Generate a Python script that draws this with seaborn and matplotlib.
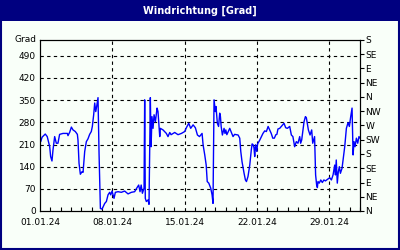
import numpy as np
import pandas as pd
import matplotlib
matplotlib.use("Agg")
import matplotlib.pyplot as plt
import matplotlib.dates as mdates
from matplotlib.patches import Rectangle
import seaborn as sns

# day offsets from 01.01.24 and wind direction in degrees
days = [0.07, 0.2, 0.51, 0.7, 0.94, 1.03, 1.16, 1.26, 1.42, 1.58, 1.74, 1.9, 2.23, 2.65, 2.71, 2.88,
        3.04, 3.2, 3.42, 3.62, 3.68, 3.78, 3.91, 4.07, 4.17, 4.33, 4.49, 4.65, 4.81, 4.97, 5.07,
        5.2, 5.3, 5.4, 5.49, 5.62, 5.72, 5.85, 6.01, 6.27, 6.43, 6.59, 6.75, 6.85, 6.98, 7.17,
        7.3, 7.56, 7.88, 8.2, 8.53, 8.85, 9.17, 9.33, 9.56, 9.69, 9.8, 9.92, 10.08, 10.14, 10.2,
        10.3, 10.47, 10.56, 10.69, 10.76, 10.85, 10.95, 11.05, 11.18, 11.34, 11.43, 11.53, 11.6,
        11.66, 11.92, 12.24, 12.4, 12.57, 12.7, 13.05, 13.37, 13.7, 14.02, 14.18, 14.41, 14.6,
        14.83, 15.05, 15.25, 15.45, 15.6, 15.7, 15.8, 15.96, 16.1, 16.2, 16.35, 16.54, 16.67,
        16.76, 16.86, 16.99, 17.05, 17.18, 17.3, 17.41, 17.48, 17.55, 17.67, 17.83, 17.92, 18.0,
        18.1, 18.38, 18.5, 18.7, 18.85, 19.19, 19.35, 19.45, 19.57, 19.77, 19.9, 20.0, 20.15,
        20.32, 20.47, 20.55, 20.65, 20.73, 20.8, 20.88, 21.0, 21.08, 21.29, 21.45, 21.6, 21.77,
        21.93, 22.1, 22.25, 22.4, 22.55, 22.7, 22.85, 22.95, 23.05, 23.22, 23.45, 23.64, 23.8,
        23.96, 24.19, 24.35, 24.5, 24.67, 24.83, 24.99, 25.16, 25.25, 25.35, 25.58, 25.71, 25.8,
        26.0, 26.16, 26.32, 26.42, 26.6, 26.7, 26.8, 26.87, 26.93, 27.05, 27.2, 27.35, 27.5,
        27.65, 27.85, 28.07, 28.23, 28.39, 28.55, 28.62, 28.7, 28.8, 28.9, 29.0, 29.1, 29.26,
        29.52, 29.68, 29.84, 29.97, 30.1, 30.23, 30.33, 30.42, 30.52, 30.65, 30.78, 30.9, 31.0]
wind_deg = [219, 233, 243, 235, 203, 172, 158, 193, 235, 214, 214, 242, 245, 245, 238, 249,
            265, 256, 251, 242, 224, 151, 116, 124, 122, 188, 219, 228, 242, 251, 267,
            304, 341, 314, 330, 358, 182, 8, 6, 24, 30, 51, 59, 51, 63, 40,
            59, 61, 59, 63, 54, 59, 61, 70, 82, 61, 82, 56, 72, 351, 40,
            30, 35, 21, 358, 203, 298, 261, 304, 282, 325, 314, 267, 235,
            261, 256, 245, 235, 248, 241, 248, 241, 245, 251, 263, 277, 261,
            272, 263, 240, 235, 241, 245, 209, 177, 145, 93, 88, 72, 51,
            24, 351, 314, 330, 277, 267, 309, 298, 267, 240, 261, 245, 256,
            241, 261, 251, 235, 242, 240, 230, 188, 156, 119, 98, 93, 109,
            145, 193, 212, 209, 200, 172, 209, 188, 212, 224, 235, 245, 253,
            251, 267, 256, 245, 230, 230, 241, 242, 259, 261, 270, 277, 263,
            261, 267, 240, 235, 203, 219, 214, 235, 214, 224, 282, 298, 295,
            256, 240, 256, 214, 235, 114, 82, 74, 93, 88, 98, 90, 98,
            95, 100, 105, 98, 114, 145, 114, 161, 88, 124, 140, 119, 135,
            203, 261, 279, 267, 298, 325, 177, 219, 203, 230, 214, 235, 230]

left_ticks = [0, 70, 140, 210, 280, 350, 420, 490]
right_ticks = [0, 45, 90, 135, 180, 225, 270, 315, 360, 405, 450, 495, 540]
right_labels = ["N", "NE", "E", "SE", "S", "SW", "W", "NW", "N", "NE", "E", "SE", "S"]
date_ticks = ["2024-01-01", "2024-01-08", "2024-01-15", "2024-01-22", "2024-01-29"]
date_labels = ["01.01.24", "08.01.24", "15.01.24", "22.01.24", "29.01.24"]

sns.set_theme(style="white")
plt.rcParams['font.family'] = ['DejaVu Sans']

start = pd.Timestamp("2024-01-01")
df = pd.DataFrame({
    "time": [start + pd.Timedelta(days=d) for d in days],
    "deg": wind_deg,
})

bg = "#F9FFF9"
navy = "#000080"
fig = plt.figure(figsize=(4, 2.5), dpi=100, facecolor=bg)
ax = fig.add_axes([0.1, 0.156, 0.8, 0.684])
ax.set_facecolor(bg)

sns.lineplot(data=df, x="time", y="deg", ax=ax, color="#0000FF", linewidth=1.0,
             estimator=None, sort=False)

ax.set_xlim(start, pd.Timestamp("2024-02-01"))
ax.set_ylim(0, 540)
ax.set_xlabel("")
ax.set_ylabel("")

ax.set_yticks(left_ticks)
ax.set_yticklabels([str(v) for v in left_ticks], fontsize=6.5, color="black")
ax.tick_params(axis="y", length=0, pad=3)

ax.set_xticks([pd.Timestamp(d) for d in date_ticks])
ax.set_xticklabels(date_labels, fontsize=6.5, color="black")
ax.xaxis.set_minor_locator(mdates.DayLocator())
ax.tick_params(axis="x", which="major", direction="in", length=3, width=0.8, pad=5, color="black")
ax.tick_params(axis="x", which="minor", direction="in", length=3, width=0.8, color="black", bottom=True)

for v in left_ticks[1:]:
    ax.axhline(v, color="black", linestyle=(0, (3, 3)), linewidth=0.8, zorder=0)
for d in date_ticks[1:]:
    ax.axvline(pd.Timestamp(d), color="black", linestyle=(0, (3, 3)), linewidth=0.8, zorder=0)

for s in ax.spines.values():
    s.set_color("black")
    s.set_linewidth(0.8)
    s.set_visible(True)

ax2 = ax.twinx()
ax2.set_ylim(0, 540)
ax2.set_yticks(right_ticks)
ax2.set_yticklabels(right_labels, fontsize=6.5, color="black")
ax2.tick_params(axis="y", direction="out", length=3, width=0.8, pad=1, color="black", right=True)
ax2.grid(False)
for s in ax2.spines.values():
    s.set_color("black")
    s.set_linewidth(0.8)

ax.text(-0.012, 540, "Grad", transform=ax.get_yaxis_transform(), ha="right", va="center",
        fontsize=6.5, color="black")

# title bar and frame
fig.patches.append(Rectangle((0, 0.918), 1, 0.082, transform=fig.transFigure,
                             facecolor=navy, edgecolor="none", zorder=0))
fig.patches.append(Rectangle((0.0025, 0.004), 0.995, 0.99, transform=fig.transFigure,
                             facecolor="none", edgecolor=navy, linewidth=1.5, zorder=1))
fig.text(0.5, 0.958, "Windrichtung [Grad]", ha="center", va="center", color="white",
         fontsize=7, fontweight="bold")

fig.savefig("out.png", dpi=100, facecolor=bg)
